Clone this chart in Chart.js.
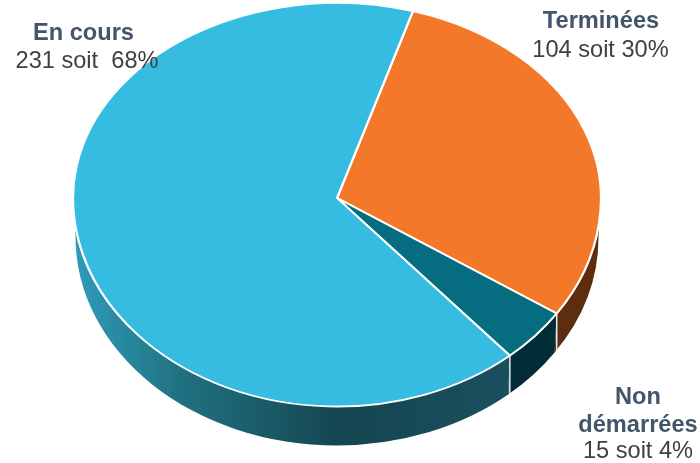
<!DOCTYPE html>
<html lang="fr">
<head>
<meta charset="utf-8">
<title>Actions</title>
<style>
  html, body { margin: 0; padding: 0; background: #fff; }
  canvas { display: block; }
</style>
<script src="https://cdn.jsdelivr.net/npm/chart.js@4"></script>
</head>
<body>
<canvas id="myChart" width="700" height="463"></canvas>
<script>
const categories = ['Terminées', 'Non démarrées', 'En cours']
const valeurs = [104, 15, 231]
const pourcentages = ['30%', '4%', ' 68%']

const couleurs = ['#F37829', '#066C80', '#35BCE0']
const couleursCote = ['#5C2E0D', '#022C36', null]

// perspective : la moitie haute de la face est plus ecrasee que la moitie basse
const pie = { cx: 337, cy: 198, rx: 264, ryHaut: 195, ryBas: 208.5, depth: 39, rxCote: 261.5 }

const etiquettes = [
  { x: 601, xTexte: 600.5, y: [28, 57] },
  { x: 638, xTexte: 638, y: [404, 432, 458], wrap: true },
  { x: 83.5, xTexte: 87, y: [40, 68] }
]

function dessinerCote(ctx, arcs) {
  const degrade = ctx.createLinearGradient(pie.cx - pie.rx, 0, pie.cx + 180, 0)
  degrade.addColorStop(0, '#2F9CBA')
  degrade.addColorStop(0.25, '#20707F')
  degrade.addColorStop(0.6, '#144651')
  degrade.addColorStop(1, '#1A505E')

  arcs.forEach((arc, i) => {
    // seule la moitie basse (0 a PI) est visible
    let debut = arc.startAngle
    let fin = arc.endAngle
    const tour = Math.PI * 2
    while (debut > Math.PI) { debut -= tour; fin -= tour }
    while (fin < 0) { debut += tour; fin += tour }
    debut = Math.max(debut, 0)
    fin = Math.min(fin, Math.PI)
    if (fin <= debut) return

    ctx.beginPath()
    ctx.ellipse(pie.cx, pie.cy, pie.rx, pie.ryBas, 0, debut, fin)
    ctx.ellipse(pie.cx, pie.cy + pie.depth, pie.rxCote, pie.ryBas, 0, fin, debut, true)
    ctx.closePath()
    ctx.fillStyle = couleursCote[i] || degrade
    ctx.fill()

    // separation entre les parts
    if (debut > 0) {
      const x = pie.cx + pie.rx * Math.cos(debut)
      const y = pie.cy + pie.ryBas * Math.sin(debut)
      ctx.beginPath()
      ctx.moveTo(x, y)
      ctx.lineTo(x, y + pie.depth)
      ctx.strokeStyle = '#E4ECEE'
      ctx.lineWidth = 1.5
      ctx.stroke()
    }
  })
}

function dessinerEtiquettes(ctx) {
  ctx.textAlign = 'center'
  ctx.textBaseline = 'alphabetic'
  etiquettes.forEach((e, i) => {
    const titre = e.wrap ? categories[i].split(' ') : [categories[i]]
    ctx.font = 'bold 23.6px "Liberation Sans", Arial, sans-serif'
    ctx.fillStyle = '#44546A'
    titre.forEach((ligne, j) => ctx.fillText(ligne, e.x, e.y[j]))
    ctx.font = '23.6px "Liberation Sans", Arial, sans-serif'
    ctx.fillStyle = '#404040'
    ctx.fillText(`${valeurs[i]} soit ${pourcentages[i]}`, e.xTexte, e.y[titre.length])
  })
}

// coupe le canvas au-dessus ou au-dessous du centre, puis met le cercle en ellipse
function poserDemiFace(ctx, arc, ry, y, h) {
  const r = arc.outerRadius
  ctx.save()
  ctx.beginPath()
  ctx.rect(0, y, 700, h)
  ctx.clip()
  ctx.translate(pie.cx, pie.cy)
  ctx.scale(pie.rx / r, ry / r)
  ctx.translate(-arc.x, -arc.y)
}

const pie3d = {
  id: 'pie3d',
  beforeDatasetsDraw(chart) {
    const ctx = chart.ctx
    const arcs = chart.getDatasetMeta(0).data
    dessinerCote(ctx, arcs)
    poserDemiFace(ctx, arcs[0], pie.ryBas, pie.cy, 463 - pie.cy)
  },
  afterDatasetsDraw(chart) {
    const ctx = chart.ctx
    const arcs = chart.getDatasetMeta(0).data
    ctx.restore()
    poserDemiFace(ctx, arcs[0], pie.ryHaut, 0, pie.cy)
    arcs.forEach(arc => arc.draw(ctx))
    ctx.restore()
    dessinerEtiquettes(ctx)
  }
}

new Chart(document.getElementById('myChart'), {
  type: 'pie',
  data: {
    labels: categories,
    datasets: [{
      data: valeurs,
      backgroundColor: couleurs,
      borderColor: '#fff',
      borderWidth: 2,
      clip: false
    }]
  },
  options: {
    responsive: false,
    animation: false,
    rotation: 16.7,
    events: [],
    layout: { padding: 0 },
    plugins: {
      legend: { display: false },
      tooltip: { enabled: false }
    }
  },
  plugins: [pie3d]
})
</script>
</body>
</html>
